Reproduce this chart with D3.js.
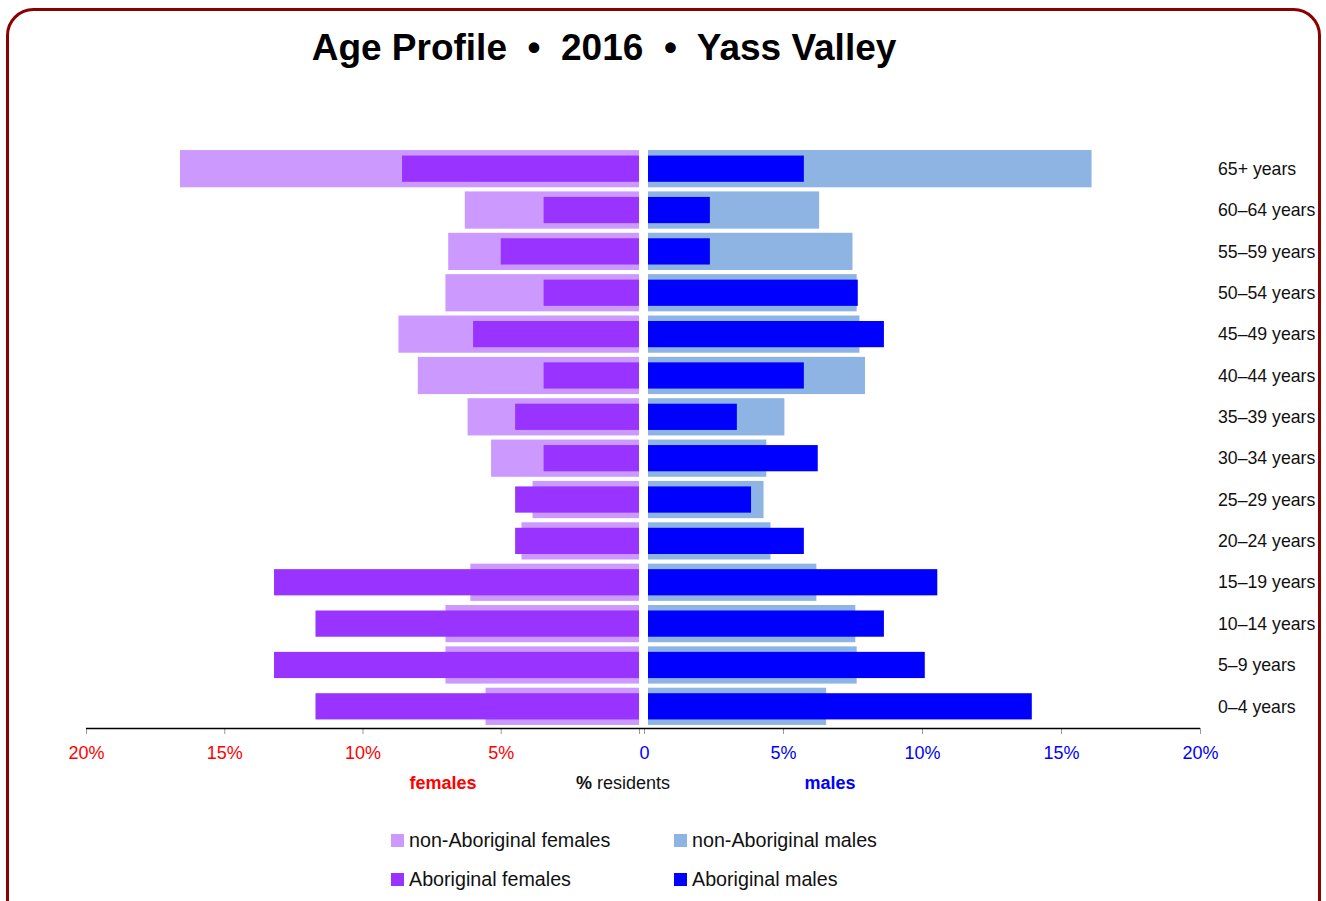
<!DOCTYPE html>
<html>
<head>
<meta charset="utf-8">
<script src="https://cdn.jsdelivr.net/npm/d3@7"></script>
<style>
  body { margin: 0; background: #fff; }
  svg { display: block; font-family: "Liberation Sans", Arial, sans-serif; }
</style>
</head>
<body>
<div id="chart"></div>
<script>
// age groups, top to bottom
var ageGroups = ["65+ years", "60–64 years", "55–59 years", "50–54 years", "45–49 years",
  "40–44 years", "35–39 years", "30–34 years", "25–29 years", "20–24 years",
  "15–19 years", "10–14 years", "5–9 years", "0–4 years"];

// % residents
var nonAborigFemales = [16.6, 6.3, 6.9, 7.0, 8.7, 8.0, 6.2, 5.35, 3.85, 4.25, 6.1, 7.0, 7.0, 5.55];
var aborigFemales    = [8.57, 3.45, 5.0, 3.45, 6.0, 3.45, 4.48, 3.45, 4.48, 4.48, 13.2, 11.7, 13.2, 11.7];
var nonAborigMales   = [16.1, 6.3, 7.5, 7.65, 7.75, 7.95, 5.05, 4.4, 4.3, 4.55, 6.2, 7.6, 7.65, 6.55];
var aborigMales      = [5.75, 2.37, 2.37, 7.69, 8.63, 5.75, 3.34, 6.25, 3.85, 5.75, 10.55, 8.63, 10.1, 13.95];

var ticks = [0, 5, 10, 15, 20];

var legendItems = [
  { label: "non-Aboriginal females", color: "#cc99ff" },
  { label: "non-Aboriginal males", color: "#8db4e2" },
  { label: "Aboriginal females", color: "#9933ff" },
  { label: "Aboriginal males", color: "#0000ff" }
];

var svgWidth = 1326;
var svgHeight = 901;

var svg = d3.select("#chart")
  .append("svg")
  .attr("width", svgWidth)
  .attr("height", svgHeight);

// frame
svg.append("rect")
  .attr("x", 7.5)
  .attr("y", 9.5)
  .attr("width", 1312)
  .attr("height", 940)
  .attr("rx", 26)
  .attr("fill", "none")
  .attr("stroke", "#8b0000")
  .attr("stroke-width", 3);

// title
svg.append("text")
  .attr("x", 604)
  .attr("y", 60)
  .attr("text-anchor", "middle")
  .attr("font-size", 37)
  .attr("font-weight", "bold")
  .attr("xml:space", "preserve")
  .text("Age Profile  •  2016  •  Yass Valley");

// scales
var axisY = 728;
var xLeft = d3.scaleLinear().domain([0, 20]).range([639, 86]);
var xRight = d3.scaleLinear().domain([0, 20]).range([644, 1200]);
var maleGap = 4; // male bars start a little right of the zero tick

var y = d3.scaleBand()
  .domain(ageGroups)
  .range([148, 727])
  .paddingInner(0.1)
  .paddingOuter(0.05);

var darkInset = 5.5;

var rows = ageGroups.map(function(g, i) {
  return { group: g, nf: nonAborigFemales[i], af: aborigFemales[i], nm: nonAborigMales[i], am: aborigMales[i] };
});

var bars = svg.append("g");

// females - light then dark
bars.selectAll(".nf").data(rows).enter().append("rect")
  .attr("x", d => xLeft(d.nf))
  .attr("y", d => y(d.group))
  .attr("width", d => xLeft(0) - xLeft(d.nf))
  .attr("height", y.bandwidth())
  .attr("fill", "#cc99ff");

bars.selectAll(".af").data(rows).enter().append("rect")
  .attr("x", d => xLeft(d.af))
  .attr("y", d => y(d.group) + darkInset)
  .attr("width", d => xLeft(0) - xLeft(d.af))
  .attr("height", y.bandwidth() - 2 * darkInset)
  .attr("fill", "#9933ff");

// males - light then dark
bars.selectAll(".nm").data(rows).enter().append("rect")
  .attr("x", xRight(0) + maleGap)
  .attr("y", d => y(d.group))
  .attr("width", d => xRight(d.nm) - xRight(0) - maleGap)
  .attr("height", y.bandwidth())
  .attr("fill", "#8db4e2");

bars.selectAll(".am").data(rows).enter().append("rect")
  .attr("x", xRight(0) + maleGap)
  .attr("y", d => y(d.group) + darkInset)
  .attr("width", d => xRight(d.am) - xRight(0) - maleGap)
  .attr("height", y.bandwidth() - 2 * darkInset)
  .attr("fill", "#0000ff");

// row labels
svg.append("g").selectAll("text").data(ageGroups).enter().append("text")
  .attr("x", 1218)
  .attr("y", d => y(d) + y.bandwidth() / 2)
  .attr("dy", "0.35em")
  .attr("font-size", 17.7)
  .attr("fill", "#111")
  .text(d => d);

// axes
var leftAxis = d3.axisBottom(xLeft)
  .tickValues(ticks)
  .tickSize(6)
  .tickPadding(12)
  .tickFormat(d => d === 0 ? "" : d + "%");

var rightAxis = d3.axisBottom(xRight)
  .tickValues(ticks)
  .tickSize(6)
  .tickPadding(12)
  .tickFormat(d => d === 0 ? "0" : d + "%");

var gLeft = svg.append("g")
  .attr("transform", `translate(0, ${axisY})`)
  .call(leftAxis);

var gRight = svg.append("g")
  .attr("transform", `translate(0, ${axisY})`)
  .call(rightAxis);

[gLeft, gRight].forEach(function(g) {
  g.select(".domain").remove();
  g.selectAll(".tick line").attr("stroke", "#999");
  g.selectAll(".tick text")
    .attr("font-size", 18)
    .attr("font-family", "'Liberation Sans', Arial, sans-serif");
});
gLeft.selectAll(".tick text").attr("fill", "#ff0000");
gRight.selectAll(".tick text").attr("fill", "#0000ff");

svg.append("line")
  .attr("x1", 86)
  .attr("x2", 1200)
  .attr("y1", axisY + 0.5)
  .attr("y2", axisY + 0.5)
  .attr("stroke", "#000")
  .attr("stroke-width", 1.5);

// axis titles
svg.append("text")
  .attr("x", 443)
  .attr("y", 789)
  .attr("text-anchor", "middle")
  .attr("font-size", 18)
  .attr("font-weight", "bold")
  .attr("fill", "#ff0000")
  .text("females");

svg.append("text")
  .attr("x", 830)
  .attr("y", 789)
  .attr("text-anchor", "middle")
  .attr("font-size", 18)
  .attr("font-weight", "bold")
  .attr("fill", "#0000ff")
  .text("males");

var resid = svg.append("text")
  .attr("x", 623)
  .attr("y", 789)
  .attr("text-anchor", "middle")
  .attr("font-size", 18)
  .attr("fill", "#111");
resid.append("tspan").attr("font-weight", "bold").text("%");
resid.append("tspan").text(" residents");

// legend
var legend = svg.append("g");
var legendX = [391, 674];
var legendY = [840, 879];

legendItems.forEach(function(item, i) {
  var lx = legendX[i % 2];
  var ly = legendY[Math.floor(i / 2)];
  legend.append("rect")
    .attr("x", lx)
    .attr("y", ly - 6)
    .attr("width", 13)
    .attr("height", 13)
    .attr("fill", item.color);
  legend.append("text")
    .attr("x", lx + 18)
    .attr("y", ly)
    .attr("dy", "0.35em")
    .attr("font-size", 19.7)
    .attr("fill", "#111")
    .text(item.label);
});
</script>
</body>
</html>
